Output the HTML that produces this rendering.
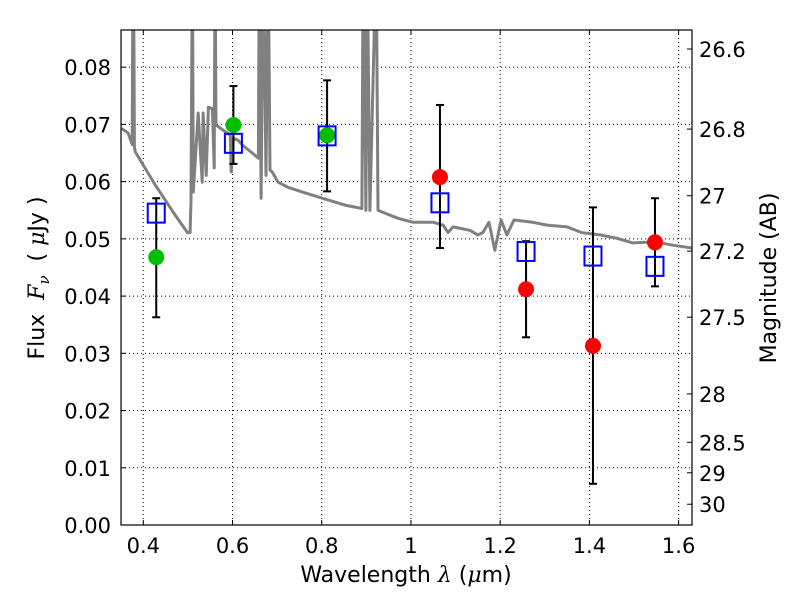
<!DOCTYPE html>
<html><head><meta charset="utf-8"><style>
body{margin:0;background:#fff;}
svg{display:block;font-family:"DejaVu Sans","Liberation Sans",sans-serif;}
</style></head><body>
<svg id="chart" width="800" height="600" viewBox="0 0 800 600" xmlns="http://www.w3.org/2000/svg">
<rect width="800" height="600" fill="#fff"/>
<g id="grid"></g>
<g id="spec"></g>
<g id="marks"></g>
<g id="axes"></g>
<text x="406" y="582" font-size="22" text-anchor="middle">Wavelength  <tspan font-style="italic" font-family="DejaVu Serif, serif">λ</tspan> (<tspan font-style="italic" font-family="DejaVu Serif, serif">μ</tspan>m)</text>
<text transform="translate(44,278) rotate(-90)" font-size="22" text-anchor="middle" xml:space="preserve">Flux  <tspan font-style="italic" font-family="DejaVu Serif, serif">F<tspan font-size="15" dy="5">ν</tspan></tspan><tspan dy="-5">  ( </tspan><tspan font-style="italic" font-family="DejaVu Serif, serif">μ</tspan>Jy )</text>
<text transform="translate(776,278) rotate(-90)" font-size="22" text-anchor="middle">Magnitude (AB)</text>
</svg>
<script>
const specWl=[0.351,0.366,0.375,0.377,0.378,0.380,0.382,0.427,0.472,0.499,0.505,0.507,0.510,0.512,0.523,0.532,0.534,0.541,0.546,0.555,0.559,0.561,0.563,0.595,0.597,0.602,0.613,0.622,0.644,0.658,0.660,0.664,0.669,0.675,0.680,0.684,0.689,0.702,0.725,0.756,0.801,0.852,0.890,0.893,0.899,0.902,0.908,0.922,0.926,0.935,0.971,1.005,1.050,1.072,1.083,1.094,1.132,1.150,1.161,1.175,1.188,1.202,1.215,1.231,1.273,1.305,1.350,1.383,1.424,1.462,1.497,1.529,1.553,1.587,1.630];
const specFlux=[0.0693,0.0685,0.0665,0.1,0.1,0.0660,0.0652,0.0594,0.0541,0.0511,0.0511,0.0568,0.1,0.0582,0.0720,0.0599,0.0720,0.0611,0.0730,0.0728,0.0624,0.1,0.0699,0.0681,0.0617,0.0676,0.0672,0.0664,0.0650,0.0641,0.1,0.0571,0.1,0.0611,0.1,0.0620,0.0617,0.0599,0.0590,0.0582,0.0571,0.0559,0.0553,0.1,0.0550,0.1,0.0550,0.1,0.0550,0.0547,0.0536,0.0529,0.0529,0.0524,0.0511,0.0521,0.0515,0.0507,0.0511,0.0529,0.0480,0.0533,0.0507,0.0533,0.0529,0.0524,0.0521,0.0511,0.0507,0.0501,0.0493,0.0494,0.0494,0.0489,0.0484];
const obsWl=[0.429,0.602,0.812,1.065,1.258,1.408,1.547];
const obsFlux=[0.0468,0.0699,0.0681,0.0608,0.0412,0.0313,0.0494];
const errLo=[0.0363,0.0631,0.0583,0.0484,0.0328,0.0072,0.0417];
const errHi=[0.0571,0.0767,0.0777,0.0734,0.0496,0.0555,0.0571];
const modelFlux=[0.0545,0.0667,0.0680,0.0563,0.0478,0.0470,0.0452];
const obsColor=['#00bf00','#00bf00','#00bf00','#ff0000','#ff0000','#ff0000','#ff0000'];
const xTicks=[0.4,0.6,0.8,1.0,1.2,1.4,1.6];
const xTickLabels=['0.4','0.6','0.8','1','1.2','1.4','1.6'];
const yTicks=[0,0.01,0.02,0.03,0.04,0.05,0.06,0.07,0.08];
const yTickLabels=['0.00','0.01','0.02','0.03','0.04','0.05','0.06','0.07','0.08'];
const magTicks=[26.6,26.8,27,27.2,27.5,28,28.5,29,30];
const magTickLabels=['26.6','26.8','27','27.2','27.5','28','28.5','29','30'];

const L=121,R=692,T=30,B=525,xmin=0.35,xmax=1.63,ymin=0,ymax=0.0865;
const X=v=>L+(v-xmin)/(xmax-xmin)*(R-L);
const Y=v=>B-(v-ymin)/(ymax-ymin)*(B-T);
const magToFlux=m=>Math.pow(10,(23.9-m)/2.5);
const NS='http://www.w3.org/2000/svg';
function mk(p,tag,at){const e=document.createElementNS(NS,tag);for(const k in at)e.setAttribute(k,at[k]);p.appendChild(e);return e;}
const grid=document.getElementById('grid'),axes=document.getElementById('axes'),spec=document.getElementById('spec'),marks=document.getElementById('marks');

xTicks.forEach((v,i)=>{
 const g=mk(grid,'line',{x1:X(v),x2:X(v),y1:T,y2:B,stroke:'#000','stroke-width':1,'stroke-dasharray':'1,3'});
 
 
 mk(axes,'line',{x1:X(v),x2:X(v),y1:B,y2:B-5,stroke:'#000'});
 mk(axes,'line',{x1:X(v),x2:X(v),y1:T,y2:T+5,stroke:'#000'});
 const t=mk(axes,'text',{x:X(v),y:B+28,'font-size':21,'text-anchor':'middle'});
 t.textContent=xTickLabels[i];
 
 
});
yTicks.forEach((v,i)=>{
 const g=mk(grid,'line',{x1:L,x2:R,y1:Y(v),y2:Y(v),stroke:'#000','stroke-width':1,'stroke-dasharray':'1,3'});
 
 
 mk(axes,'line',{x1:L,x2:L+5,y1:Y(v),y2:Y(v),stroke:'#000'});
 const t=mk(axes,'text',{x:L-10,y:Y(v)+8,'font-size':21,'text-anchor':'end'});
 t.textContent=yTickLabels[i];
 
 
});
magTicks.forEach((m,i)=>{
 const y=Y(magToFlux(m));
 mk(axes,'line',{x1:R,x2:R-5,y1:y,y2:y,stroke:'#000'});
 const t=mk(axes,'text',{x:R+7,y:y+8,'font-size':21});
 t.textContent=magTickLabels[i];
 
 
});

const cp=mk(spec,'clipPath',{id:'clip'});mk(cp,'rect',{x:L,y:T,width:R-L,height:B-T});
const pts=specWl.map((w,i)=>X(w).toFixed(1)+','+Y(specFlux[i]).toFixed(1)).join(' ');
const pl=mk(spec,'polyline',{points:pts,fill:'none',stroke:'#808080','stroke-width':3,'clip-path':'url(#clip)','stroke-linejoin':'round'});



obsWl.forEach((w,i)=>{
 const x=X(w);
 const eb=mk(marks,'g',{});
 
 
 mk(eb,'line',{x1:x,x2:x,y1:Y(errLo[i]),y2:Y(errHi[i]),stroke:'#000','stroke-width':2});
 mk(eb,'line',{x1:x-4,x2:x+4,y1:Y(errLo[i]),y2:Y(errLo[i]),stroke:'#000','stroke-width':2});
 mk(eb,'line',{x1:x-4,x2:x+4,y1:Y(errHi[i]),y2:Y(errHi[i]),stroke:'#000','stroke-width':2});
 const c=mk(marks,'circle',{cx:x,cy:Y(obsFlux[i]),r:8,fill:obsColor[i]});
 
 
 const s=mk(marks,'rect',{x:x-8.5,y:Y(modelFlux[i])-9.5,width:17,height:19,fill:'none',stroke:'#0000ff','stroke-width':2});
 
 
});
const fr=mk(axes,'rect',{x:L,y:T,width:R-L,height:B-T,fill:'none',stroke:'#000','stroke-width':1.2});


</script>
</body></html>
